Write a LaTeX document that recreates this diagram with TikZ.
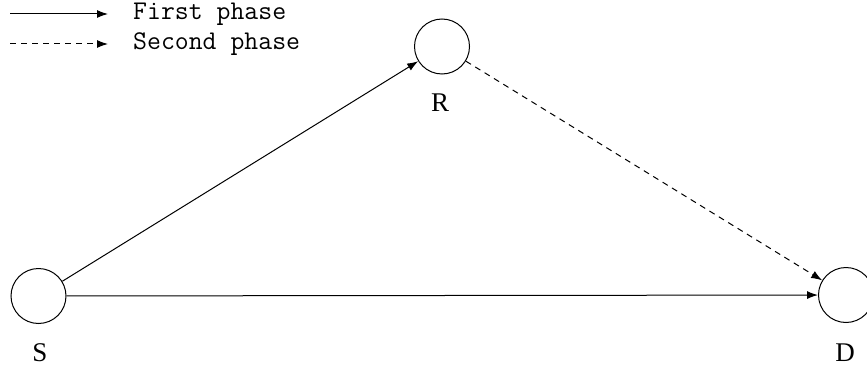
\documentclass[tikz,border=0pt]{standalone}
\usepackage{fontspec}
\setmainfont{Liberation Serif}
\usetikzlibrary{arrows.meta}
\begin{document}
\begin{tikzpicture}[x=1pt,y=-1pt,
  nodec/.style={circle,draw,line width=1pt,minimum size=55pt,inner sep=0pt},
  lbl/.style={font=\fontsize{27}{27}\selectfont},
  leg/.style={font=\ttfamily\fontsize{27}{27}\selectfont,anchor=west,inner sep=0pt},
  conn/.style={line width=1pt,-{Latex[length=11pt,width=8pt]}},
  dconn/.style={conn,dash pattern=on 6pt off 5pt}]
\useasboundingbox (0,0) rectangle (867,369);
\node[nodec] (S) at (38.5,296) {};
\node[nodec] (R) at (442,46.5) {};
\node[nodec] (D) at (846,295) {};
\node[lbl] (Sl) at (40,353) {S};
\node[lbl] (Rl) at (440,103) {R};
\node[lbl] (Dl) at (845,353) {D};
\draw[conn] (S) -- (R);
\draw[conn] (S) -- (D);
\draw[dconn] (R) -- (D);
\coordinate (l1a) at (10,14);
\coordinate (l1b) at (108,14);
\coordinate (l2a) at (10,44);
\coordinate (l2b) at (108,44);
\draw[conn] (l1a) -- (l1b);
\draw[dconn] (l2a) -- (l2b);
\node[leg] (t1) at (133,14) {First phase};
\node[leg] (t2) at (133,44) {Second phase};
\end{tikzpicture}
\end{document}
